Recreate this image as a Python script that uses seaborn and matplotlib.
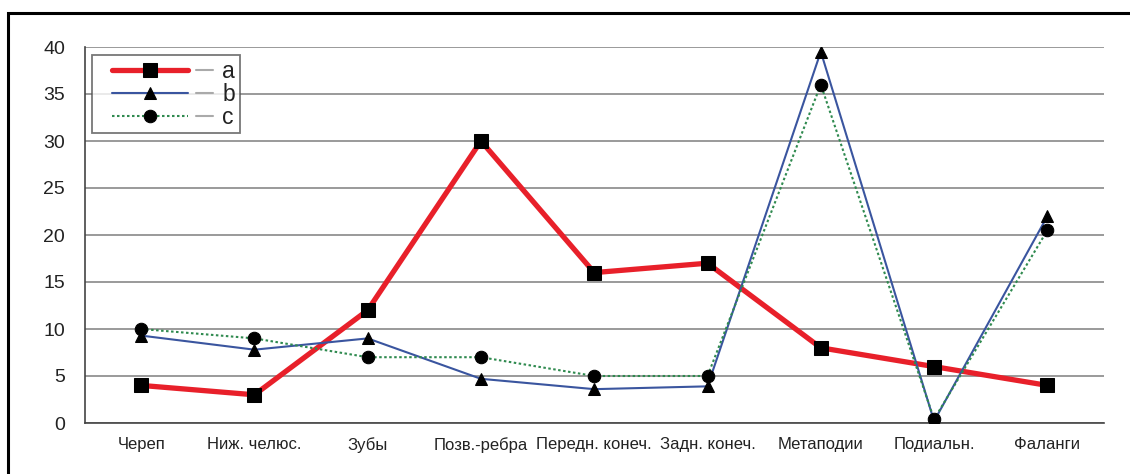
import matplotlib
matplotlib.use("Agg")
import matplotlib.pyplot as plt
import seaborn as sns
import pandas as pd
from matplotlib.lines import Line2D
from matplotlib.patches import Rectangle
from matplotlib.legend_handler import HandlerLine2D
from matplotlib import font_manager
from matplotlib.ticker import FixedLocator, NullFormatter

categories = ["Череп", "Ниж. челюс.", "Зубы", "Позв.-ребра", "Передн. конеч.",
              "Задн. конеч.", "Метаподии", "Подиальн.", "Фаланги"]
series_a = [4, 3, 12, 30, 16, 17, 8, 6, 4]
series_b = [9.3, 7.8, 9.0, 4.7, 3.6, 3.9, 39.5, 0.2, 22.0]
series_c = [10, 9, 7, 7, 5, 5, 36, 0.4, 20.5]
series_names = ["a", "b", "c"]
y_ticks = [0, 5, 10, 15, 20, 25, 30, 35, 40]

sns.set_style("white")
names = {f.name for f in font_manager.fontManager.ttflist}
fam = "Liberation Sans Narrow" if "Liberation Sans Narrow" in names else "Liberation Sans"
plt.rcParams["font.family"] = [fam, "DejaVu Sans"]

fig = plt.figure(figsize=(11.30, 4.74), dpi=100)
ax = fig.add_axes([84.5 / 1130, 51 / 474, (1104 - 84.5) / 1130, (423 - 47) / 474])

df = pd.DataFrame({"cat": categories, "a": series_a, "b": series_b, "c": series_c})

sns.lineplot(data=df, x="cat", y="a", ax=ax, color="#e8202a", lw=3.8, marker="s",
             markersize=10.5, markerfacecolor="black", markeredgecolor="black",
             label=series_names[0], zorder=3, sort=False)
sns.lineplot(data=df, x="cat", y="b", ax=ax, color="#3a559f", lw=1.5, marker="^",
             markersize=8.5, markerfacecolor="black", markeredgecolor="black",
             label=series_names[1], zorder=4, sort=False)
sns.lineplot(data=df, x="cat", y="c", ax=ax, color="#2f8a4f", lw=1.5, marker="o",
             markersize=9, markerfacecolor="black", markeredgecolor="black",
             linestyle=(0, (1.2, 1.2)), label=series_names[2], zorder=5, sort=False)

ax.set_xlim(-0.5, len(categories) - 0.5)
ax.set_ylim(0, 40)
ax.set_yticks(y_ticks)
ax.set_yticklabels([str(v) for v in y_ticks])
ax.set_xlabel("")
ax.set_ylabel("")
ax.yaxis.grid(True, color="#9a9a9a", lw=1.4)
ax.xaxis.grid(False)
ax.set_axisbelow(True)
for s in ["top", "right"]:
    ax.spines[s].set_visible(False)
for s in ["left", "bottom"]:
    ax.spines[s].set_color("#444444")
    ax.spines[s].set_linewidth(1.2)

ax.set_xticks(range(len(categories)))
ax.set_xticklabels(categories)
ax.xaxis.set_minor_locator(FixedLocator([i - 0.5 for i in range(len(categories) + 1)]))
ax.xaxis.set_minor_formatter(NullFormatter())
ax.tick_params(axis="x", which="major", length=0, pad=10, labelsize=12, labelcolor="#222222")
ax.tick_params(axis="x", which="minor", length=6, width=1.2, color="#444444", direction="in")
ax.tick_params(axis="y", length=3, width=1.2, color="#444444", pad=11, labelsize=14,
               labelcolor="#222222")

SHIFT = 0.7  # in font sizes


class HandlerWithDash(HandlerLine2D):
    def create_artists(self, legend, orig_handle, xdescent, ydescent, width, height,
                       fontsize, trans):
        sh = SHIFT * fontsize
        arts = super().create_artists(legend, orig_handle, xdescent - sh, ydescent, width,
                                      height, fontsize, trans)
        y = (height - ydescent) / 2.0
        x0 = width - xdescent + sh + 0.35 * fontsize
        dash = Line2D([x0, x0 + 0.75 * fontsize], [y, y], color="#aaaaaa", lw=1.5,
                      transform=trans)
        return list(arts) + [dash]


handles = ax.get_lines()[:3]
leg = ax.legend(handles, series_names, loc="upper left", bbox_to_anchor=(0.007, 0.978),
                fontsize=16.5, handlelength=3.3, handletextpad=2.2, labelspacing=0.0,
                borderpad=0.2, borderaxespad=0, frameon=True, fancybox=False,
                handler_map={Line2D: HandlerWithDash()})
leg.get_frame().set_edgecolor("#555555")
leg.get_frame().set_linewidth(1.3)
for t in leg.get_texts():
    t.set_color("#222222")

fig.add_artist(Rectangle((8 / 1130, -0.1), 2, 1 - 13 / 474 + 0.1, transform=fig.transFigure,
                         fill=False, ec="black", lw=2.2))

fig.savefig("out.png", dpi=100)
